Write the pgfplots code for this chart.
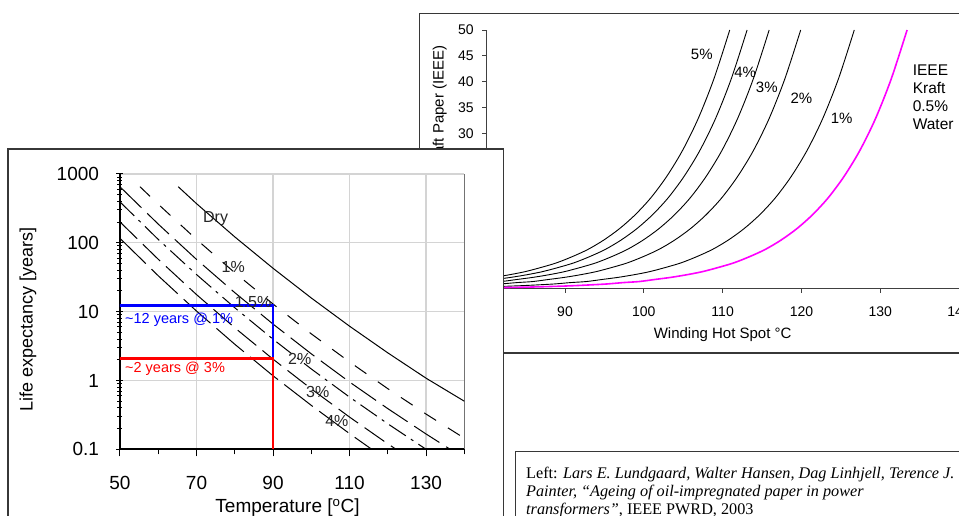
\documentclass[border=0pt]{standalone}
\usepackage{fontspec}
\setmainfont{Liberation Sans}
\newfontfamily\seriffont{Liberation Serif}
\usepackage{pgfplots}
\pgfplotsset{compat=1.18}
\definecolor{framegray}{RGB}{55,55,55}
\definecolor{gridgray}{RGB}{212,212,212}
\definecolor{kraftmag}{RGB}{255,0,255}

\begin{document}
\begin{tikzpicture}[x=1pt,y=1pt]
\path[use as bounding box] (0,0) rectangle (959,516);
\clip (0,0) rectangle (959,516);

% ---------- right chart (behind) ----------
\draw[framegray, line width=1.3pt] (419.7,502.7) rectangle (980,163);
\begin{axis}[
  scale only axis, width=472.9pt, height=258.8pt,
  at={(486.2pt,227.2pt)}, anchor=south west,
  xmin=80, xmax=140, ymin=0, ymax=50,
  axis lines*=left,
  axis line style={black!75, line width=0.9pt},
  xtick={80,90,...,140}, ytick={0,5,...,50},
  tick align=outside, major tick length=4pt,
  tick style={black!75, line width=0.8pt},
  tick label style={font=\fontsize{14}{16}\selectfont},
  /pgf/number format/assume math mode=true,
  xticklabel style={yshift=-10pt},
  yticklabel style={xshift=-5pt},
  xlabel={Winding Hot Spot °C},
  ylabel={Ageing Rate of Kraft Paper (IEEE)},
  label style={font=\fontsize{15}{17}\selectfont},
  xlabel style={at={(axis description cs:0.5,-0.178)}, anchor=center},
  ylabel style={at={(axis description cs:-0.098,0.5)}, anchor=center},
  clip mode=individual,
]
  % 5 %
  \addplot[black, line width=0.9pt, smooth] coordinates {
    (78.9,1.8) (80.9,2.2) (82.9,2.7) (84.9,3.3) (86.9,4.1) (88.9,5.0) (90.9,6.2)
    (92.9,7.6) (94.9,9.4) (96.9,11.6) (98.9,14.3) (100.9,17.6) (102.9,21.7)
    (104.9,26.7) (106.9,32.9) (108.9,40.6) (110.9,50)};
  % 4 %
  \addplot[black, line width=0.9pt, smooth] coordinates {
    (79.1,1.4) (81.1,1.8) (83.1,2.2) (85.1,2.7) (87.1,3.3) (89.1,4.1) (91.1,5.0)
    (93.1,6.2) (95.1,7.6) (97.1,9.4) (99.1,11.6) (101.1,14.3) (103.1,17.6)
    (105.1,21.7) (107.1,26.7) (109.1,32.9) (111.1,40.6) (113.1,50)};
  % 3 %
  \addplot[black, line width=0.9pt, smooth] coordinates {
    (79.9,1.2) (81.9,1.4) (83.9,1.8) (85.9,2.2) (87.9,2.7) (89.9,3.3) (91.9,4.1)
    (93.9,5.0) (95.9,6.2) (97.9,7.6) (99.9,9.4) (101.9,11.6) (103.9,14.3)
    (105.9,17.6) (107.9,21.7) (109.9,26.7) (111.9,32.9) (113.9,40.6) (115.9,50)};
  % 2 %
  \addplot[black, line width=0.9pt, smooth] coordinates {
    (79.9,0.77) (81.9,0.94) (83.9,1.2) (85.9,1.4) (87.9,1.8) (89.9,2.2) (91.9,2.7)
    (93.9,3.3) (95.9,4.1) (97.9,5.0) (99.9,6.2) (101.9,7.6) (103.9,9.4)
    (105.9,11.6) (107.9,14.3) (109.9,17.6) (111.9,21.7) (113.9,26.7)
    (115.9,32.9) (117.9,40.6) (119.9,50)};
  % 1 %
  \addplot[black, line width=0.9pt, smooth] coordinates {
    (78.7,0.33) (80.7,0.41) (82.7,0.50) (84.7,0.62) (86.7,0.77) (88.7,0.94)
    (90.7,1.2) (92.7,1.4) (94.7,1.8) (96.7,2.2) (98.7,2.7) (100.7,3.3) (102.7,4.1)
    (104.7,5.0) (106.7,6.2) (108.7,7.6) (110.7,9.4) (112.7,11.6) (114.7,14.3)
    (116.7,17.6) (118.7,21.7) (120.7,26.7) (122.7,32.9) (124.7,40.6) (126.7,50)};
  % IEEE Kraft 0.5 % water
  \addplot[kraftmag, line width=1.6pt, smooth] coordinates {
    (79.4,0.18) (81.4,0.22) (83.4,0.27) (85.4,0.33) (87.4,0.41) (89.4,0.50)
    (91.4,0.62) (93.4,0.77) (95.4,0.94) (97.4,1.2) (99.4,1.4) (101.4,1.8)
    (103.4,2.2) (105.4,2.7) (107.4,3.3) (109.4,4.1) (111.4,5.0) (113.4,6.2)
    (115.4,7.6) (117.4,9.4) (119.4,11.6) (121.4,14.3) (123.4,17.6) (125.4,21.7)
    (127.4,26.7) (129.4,32.9) (131.4,40.6) (133.4,50)};
  \begin{scope}[font=\fontsize{15}{17}\selectfont]
    \node at (axis cs:107.35,45.2) {5\%};
    \node at (axis cs:112.85,41.9) {4\%};
    \node at (axis cs:115.6,39.0) {3\%};
    \node at (axis cs:120.0,36.8) {2\%};
    \node at (axis cs:125.1,32.9) {1\%};
    \node[anchor=north west, align=left, inner sep=0pt,
      font=\fontsize{15.5}{18.2}\selectfont] at (axis cs:134.1,43.4)
      {IEEE\\Kraft\\0.5\%\\Water};
  \end{scope}
\end{axis}

% ---------- left chart (front) ----------
\draw[framegray, line width=1.3pt, fill=white] (8,367) rectangle (503.5,-30);
\begin{axis}[
  scale only axis, width=344.3pt, height=275.3pt,
  at={(120pt,66.7pt)}, anchor=south west,
  xmin=50, xmax=140, ymode=log, ymin=0.1, ymax=1000,
  axis x line*=bottom, axis y line*=left,
  axis line style={black, line width=1.8pt},
  xtick={50,70,90,110,130}, minor xtick={60,80,100,120,140},
  ytick={0.1,1,10,100,1000}, yticklabels={0.1,1,10,100,1000},
  xtick align=outside, ytick align=center,
  major tick length=7pt, minor tick length=5pt,
  tick style={black, line width=1pt},
  xmajorgrids, ymajorgrids,
  grid style={gridgray, line width=1.3pt},
  tick label style={font=\fontsize{19}{22}\selectfont},
  /pgf/number format/assume math mode=true,
  xticklabel style={yshift=-16pt},
  yticklabel style={xshift=-14pt},
  xlabel={Temperature [\textsuperscript{o}C]},
  ylabel={Life expectancy [years]},
  xlabel style={font=\fontsize{19}{22}\selectfont,
    at={(axis description cs:0.4865,-0.213)}, anchor=center},
  ylabel style={font=\fontsize{18}{21}\selectfont,
    at={(axis description cs:-0.267,0.47)}, anchor=center},
  clip mode=individual,
]
  \draw[black!55, line width=1.3pt] (rel axis cs:1,0) -- (rel axis cs:1,1);
  % Dry
  \addplot[black, line width=1pt] coordinates {
    (65.2,655) (70,371) (80,122) (90,42.7) (100,15.8) (110,6.15) (120,2.52)
    (130,1.08) (140,0.5)};
  % 1 %
  \addplot[black, line width=1pt, dash pattern=on 14pt off 14pt] coordinates {
    (55.2,655) (60,364) (70,112) (80,36.8) (90,12.9) (100,4.76) (110,1.86)
    (120,0.76) (130,0.325) (140,0.145)};
  % 1.5 %
  \addplot[black, line width=1pt, dash pattern=on 30pt off 8pt] coordinates {
    (50,652) (60,187) (70,57.4) (80,18.9) (90,6.6) (100,2.44) (110,0.95)
    (120,0.39) (130,0.167) (136.3,0.1)};
  % 2 %
  \addplot[black, line width=1pt, dash pattern=on 20pt off 6pt on 3pt off 6pt] coordinates {
    (50,393) (60,112) (70,34.6) (80,11.4) (90,3.98) (100,1.47) (110,0.574)
    (120,0.235) (130,0.1)};
  % 3 %
  \addplot[black, line width=1pt, dash pattern=on 24pt off 8pt] coordinates {
    (50,201) (60,57.7) (70,17.7) (80,5.83) (90,2.04) (100,0.755) (110,0.294)
    (120,0.12) (122.2,0.1)};
  % 4 %
  \addplot[black, line width=1pt, dash pattern=on 36pt off 8pt] coordinates {
    (50,116) (60,33.2) (70,10.2) (80,3.36) (90,1.17) (100,0.435) (110,0.169)
    (115.8,0.1)};
  % read-off lines
  \addplot[blue, line width=2.6pt] coordinates {(49.5,12.2) (90,12.2) (90,2.1)};
  \addplot[red, line width=2.6pt] coordinates {(49.5,2.1) (90,2.1) (90,0.1)};
  \begin{scope}[font=\fontsize{16}{18}\selectfont, text=black!85]
    \node at (axis cs:75,227) {Dry};
    \node at (axis cs:79.6,45) {1\%};
    \node at (axis cs:84.8,14) {1.5\%};
    \node at (axis cs:97,2.03) {2\%};
    \node at (axis cs:101.7,0.687) {3\%};
    \node at (axis cs:106.7,0.26) {4\%};
  \end{scope}
  \node[blue, anchor=west, inner sep=0pt, font=\fontsize{14.5}{17}\selectfont]
    at (axis cs:51.3,7.57) {\textasciitilde12 years @ 1\%};
  \node[red, anchor=west, inner sep=0pt, font=\fontsize{14.5}{17}\selectfont]
    at (axis cs:51.3,1.47) {\textasciitilde2 years @ 3\%};
\end{axis}

% ---------- reference box ----------
\draw[framegray, line width=1pt, fill=white] (515,64.3) rectangle (980,-30);
\node[anchor=north west, align=left, inner sep=0pt,
  font=\seriffont\fontsize{16.2}{17.6}\selectfont] at (526,48.8)
  {Left: \textit{Lars E. Lundgaard, Walter Hansen, Dag Linhjell, Terence J.}\\
   \textit{Painter, “Ageing of oil-impregnated paper in power}\\
   \textit{transformers”}, IEEE PWRD, 2003};
\end{tikzpicture}
\end{document}
